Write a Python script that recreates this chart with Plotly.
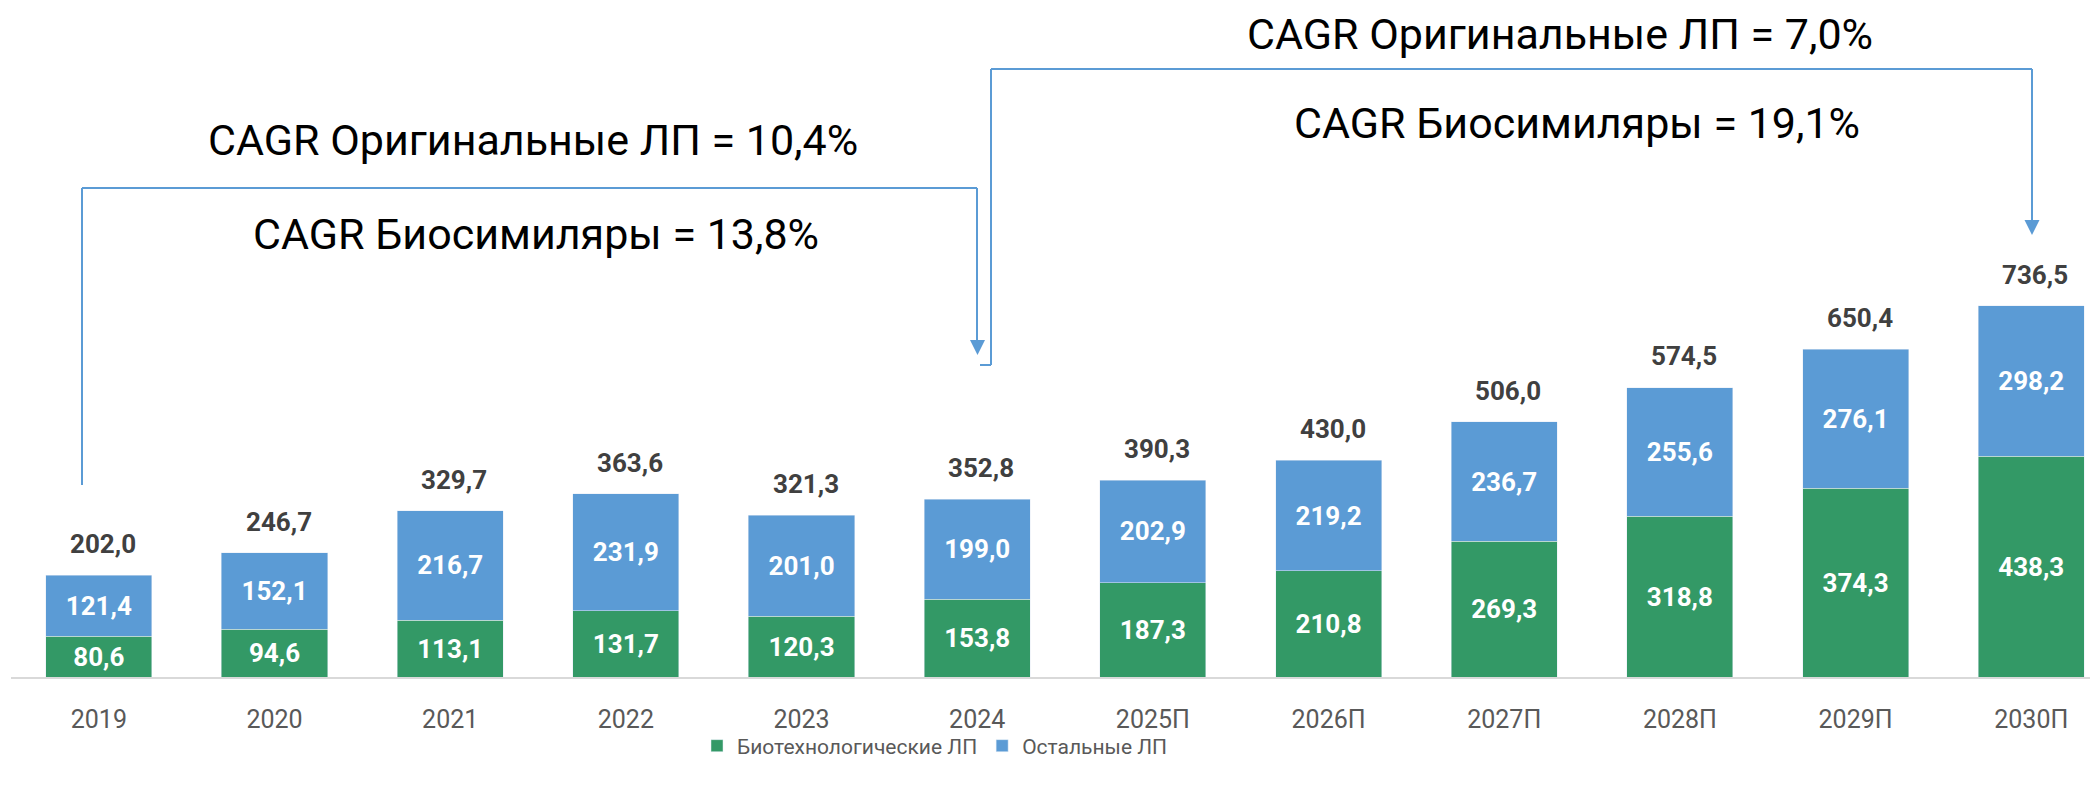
import plotly.graph_objects as go

categories = ["2019", "2020", "2021", "2022", "2023", "2024", "2025П", "2026П", "2027П", "2028П", "2029П", "2030П"]
biotech = [80.6, 94.6, 113.1, 131.7, 120.3, 153.8, 187.3, 210.8, 269.3, 318.8, 374.3, 438.3]
others = [121.4, 152.1, 216.7, 231.9, 201.0, 199.0, 202.9, 219.2, 236.7, 255.6, 276.1, 298.2]
totals = [202.0, 246.7, 329.7, 363.6, 321.3, 352.8, 390.3, 430.0, 506.0, 574.5, 650.4, 736.5]

cagr_left = ["CAGR Оригинальные ЛП = 10,4%", "CAGR Биосимиляры = 13,8%"]
cagr_right = ["CAGR Оригинальные ЛП = 7,0%", "CAGR Биосимиляры = 19,1%"]

GREEN = "#339966"
BLUE = "#5B9BD5"
FONT = "Roboto"

# the page body has an 8px margin; the figure is sized to fit inside the window
OFF = 8
W, H = 2098 - OFF, 786 - OFF
ML, MR, MT, MB = 3, 0, 0, 109
PW, PH = W - ML - MR, H - MT - MB

def fmt(v):
    return f"{v:.1f}".replace(".", ",")

def px(x):
    return (x - OFF - ML) / PW

def py(y):
    return (H - MB - (y - OFF)) / PH

fig = go.Figure()
fig.add_trace(go.Bar(
    x=categories, y=biotech, name="Биотехнологические ЛП", marker_color=GREEN,
    text=[fmt(v) for v in biotech], textposition="inside", insidetextanchor="middle",
    textfont=dict(family=FONT, size=26, color="white", weight="bold"),
))
fig.add_trace(go.Bar(
    x=categories, y=others, name="Остальные ЛП", marker_color=BLUE,
    text=[fmt(v) for v in others], textposition="inside", insidetextanchor="middle",
    textfont=dict(family=FONT, size=26, color="white", weight="bold"),
))

for i, t in enumerate(totals):
    fig.add_annotation(x=i, y=t, xref="x", yref="y", text=f"<b>{fmt(t)}</b>", showarrow=False,
                       yanchor="bottom", yshift=14, xshift=4,
                       font=dict(family=FONT, size=26, color="#404040"))

line = dict(color=BLUE, width=2)
shapes = []
# left bracket
shapes.append(dict(type="line", xref="paper", yref="paper", x0=px(82), x1=px(82), y0=py(485), y1=py(188), line=line))
shapes.append(dict(type="line", xref="paper", yref="paper", x0=px(82), x1=px(977), y0=py(188), y1=py(188), line=line))
shapes.append(dict(type="line", xref="paper", yref="paper", x0=px(977), x1=px(977), y0=py(188), y1=py(342), line=line))
shapes.append(dict(type="path", xref="paper", yref="paper",
                   path=f"M {px(970)} {py(340)} L {px(985)} {py(340)} L {px(977.5)} {py(355)} Z",
                   fillcolor=BLUE, line=dict(width=0)))
# right bracket
shapes.append(dict(type="line", xref="paper", yref="paper", x0=px(980), x1=px(991), y0=py(365), y1=py(365), line=line))
shapes.append(dict(type="line", xref="paper", yref="paper", x0=px(991), x1=px(991), y0=py(365), y1=py(69), line=line))
shapes.append(dict(type="line", xref="paper", yref="paper", x0=px(991), x1=px(2032), y0=py(69), y1=py(69), line=line))
shapes.append(dict(type="line", xref="paper", yref="paper", x0=px(2032), x1=px(2032), y0=py(69), y1=py(222), line=line))
shapes.append(dict(type="path", xref="paper", yref="paper",
                   path=f"M {px(2024.5)} {py(220)} L {px(2039.5)} {py(220)} L {px(2032)} {py(235)} Z",
                   fillcolor=BLUE, line=dict(width=0)))

specs = [(533, 140, "middle"), (536, 234, "middle"), (1560, OFF, "top"), (1577, 123, "middle")]
for txt, (cx, cy, ya) in zip(cagr_left + cagr_right, specs):
    fig.add_annotation(xref="paper", yref="paper", x=px(cx), y=py(cy), text=txt, showarrow=False,
                       xanchor="center", yanchor=ya, borderpad=0,
                       font=dict(family=FONT, size=43, color="black"))

fig.update_layout(
    width=W, height=H,
    margin=dict(l=ML, r=MR, t=MT, b=MB, autoexpand=False),
    barmode="stack", bargap=0.396,
    plot_bgcolor="white", paper_bgcolor="white",
    shapes=shapes,
    showlegend=True,
    legend=dict(orientation="h", x=px(935), xanchor="center", y=py(746), yanchor="middle",
                font=dict(family=FONT, size=21, color="#595959"), itemwidth=30, traceorder="normal",
                bgcolor="rgba(0,0,0,0)"),
    xaxis=dict(type="category", range=[-0.5, 11.38], showline=True, linecolor="#D9D9D9", linewidth=2,
               ticks="", tickfont=dict(family=FONT, size=25, color="#595959"),
               ticklabelstandoff=19, showgrid=False, automargin=False),
    yaxis=dict(range=[0, PH / 0.504], visible=False, showgrid=False, automargin=False),
)

fig.write_html("out.html")
